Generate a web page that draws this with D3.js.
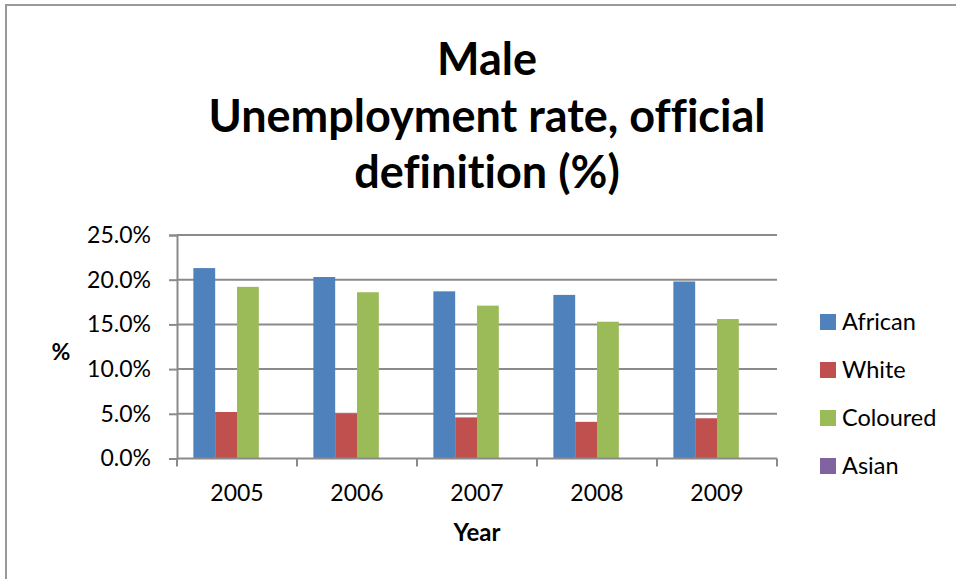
<!DOCTYPE html>
<html>
<head>
<meta charset="utf-8">
<script src="https://cdn.jsdelivr.net/npm/d3@7"></script>
<style>
  html, body { margin: 0; padding: 0; background: #fff; }
  svg { display: block; }
  text { font-family: Lato, "Open Sans", sans-serif; fill: #000; font-variant-ligatures: none; }
</style>
</head>
<body>
<svg id="chart" width="956" height="579"></svg>
<script>
const years = ["2005", "2006", "2007", "2008", "2009"];
const seriesNames = ["African", "White", "Coloured", "Asian"];
const seriesColors = ["#4F81BD", "#C0504D", "#9BBB59", "#8064A2"];
const african  = [0.213, 0.203, 0.187, 0.183, 0.198];
const white    = [0.052, 0.050, 0.046, 0.041, 0.045];
const coloured = [0.192, 0.186, 0.171, 0.153, 0.156];
const asian    = [0, 0, 0, 0, 0];
const yTicks = [0, 0.05, 0.10, 0.15, 0.20, 0.25];
const titleLines = ["Male", "Unemployment rate, official", "definition (%)"];

const seriesValues = [african, white, coloured, asian];
const data = years.map((yr, i) => ({
  year: yr,
  values: seriesNames.map((s, j) => ({ series: s, value: seriesValues[j][i], color: seriesColors[j] }))
}));

const svg = d3.select("#chart");

// outer border
svg.append("rect")
  .attr("x", 6).attr("y", 5).attr("width", 970).attr("height", 600)
  .attr("fill", "none").attr("stroke", "#999").attr("stroke-width", 2);

const plotL = 177, plotR = 777, plotT = 235, plotB = 458.5;

const x = d3.scaleBand().domain(years).range([plotL, plotR]).padding(0);
const xInner = d3.scaleBand().domain(seriesNames).range([0, x.bandwidth()])
  .paddingInner(0).paddingOuter(0.75);
const y = d3.scaleLinear().domain([0, 0.25]).range([plotB, plotT]);

// gridlines
svg.append("g").selectAll("line").data(yTicks.filter(t => t > 0)).join("line")
  .attr("x1", plotL).attr("x2", plotR)
  .attr("y1", d => y(d)).attr("y2", d => y(d))
  .attr("stroke", "#8a8a8a").attr("stroke-width", 2);

// y axis
const yAxis = d3.axisLeft(y).tickValues(yTicks).tickFormat(d3.format(".1%")).tickSize(8).tickPadding(18);
const gy = svg.append("g").attr("transform", `translate(${plotL},0)`).call(yAxis);
gy.select(".domain").attr("stroke", "#8a8a8a").attr("stroke-width", 2);
gy.selectAll(".tick line").attr("stroke", "#8a8a8a").attr("stroke-width", 2);
gy.selectAll(".tick text").style("font-size", "23px").style("font-family", "Lato").attr("fill", "#000");

// bars
const groups = svg.append("g").selectAll("g").data(data).join("g")
  .attr("transform", d => `translate(${x(d.year)},0)`);
groups.selectAll("rect").data(d => d.values).join("rect")
  .attr("x", d => xInner(d.series))
  .attr("width", xInner.bandwidth())
  .attr("y", d => y(d.value))
  .attr("height", d => plotB - y(d.value))
  .attr("fill", d => d.color);

// x axis
const xAxis = d3.axisBottom(x).tickSize(0).tickPadding(26);
const gx = svg.append("g").attr("transform", `translate(0,${plotB})`).call(xAxis);
gx.select(".domain").remove();
gx.selectAll(".tick text").style("font-size", "23px").style("font-family", "Lato").attr("fill", "#000");
svg.append("line").attr("x1", plotL).attr("x2", plotR).attr("y1", plotB).attr("y2", plotB)
  .attr("stroke", "#8a8a8a").attr("stroke-width", 2);
const boundaries = years.map(d => x(d)).concat([plotR]);
svg.append("g").selectAll("line").data(boundaries).join("line")
  .attr("x1", d => d).attr("x2", d => d)
  .attr("y1", plotB).attr("y2", plotB + 8)
  .attr("stroke", "#8a8a8a").attr("stroke-width", 2);

// axis titles
svg.append("text").attr("x", (plotL + plotR) / 2).attr("y", 541)
  .attr("text-anchor", "middle").style("font-size", "24px").style("font-weight", "bold").text("Year");
svg.append("text").attr("x", 61).attr("y", 360)
  .attr("text-anchor", "middle").style("font-size", "23px").style("font-weight", "bold").text("%");

// title
const titleY = [75, 132, 188];
svg.append("g").selectAll("text").data(titleLines).join("text")
  .attr("x", 487).attr("y", (d, i) => titleY[i])
  .attr("text-anchor", "middle").style("font-size", "45px").style("font-weight", "bold")
  .text(d => d);

// legend
const legend = svg.append("g").selectAll("g").data(seriesNames).join("g")
  .attr("transform", (d, i) => `translate(820,${322 + i * 48})`);
legend.append("rect").attr("x", 0).attr("y", -8).attr("width", 16).attr("height", 16)
  .attr("fill", (d, i) => seriesColors[i]);
legend.append("text").attr("x", 22).attr("y", 8)
  .style("font-size", "23.5px").text(d => d);
</script>
</body>
</html>
